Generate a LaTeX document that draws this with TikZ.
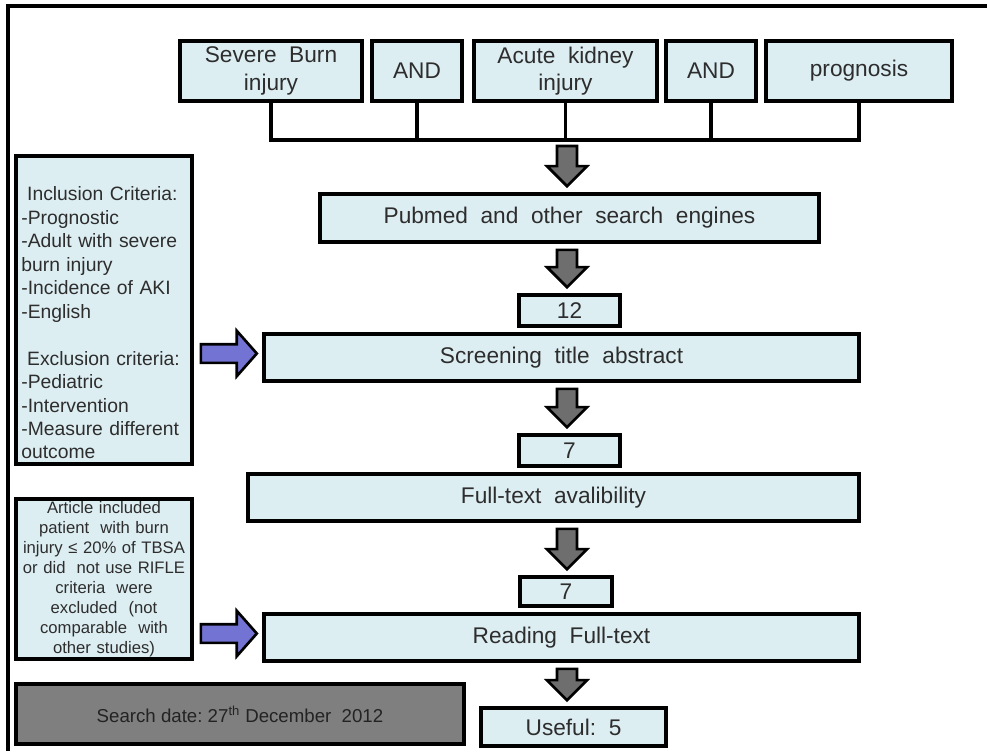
\documentclass[tikz,border=0pt]{standalone}
\usepackage{fontspec}
\setmainfont{Liberation Sans}
\usetikzlibrary{calc}
\definecolor{boxfill}{RGB}{221,238,243}
\definecolor{txt}{RGB}{45,45,45}
\definecolor{garrow}{RGB}{110,110,110}
\definecolor{barrow}{RGB}{115,115,212}
\definecolor{datefill}{RGB}{127,127,127}
\tikzset{
  box/.style={draw=black, line width=2.8pt, fill=boxfill, inner sep=0pt, text=txt,
    font=\fontsize{17}{20.5}\selectfont, anchor=center},
  spanbox/.style args={#1,#2,#3,#4}{at={({(#1+#3)/2},{(#2+#4)/2})},
    minimum width={(#3-#1-2)*0.75pt}, minimum height={(#4-#2-2)*0.75pt}},
  conn/.style={draw=black, line width=2.3pt},
  grayblk/.style={fill=garrow, draw=black, line width=2pt, line join=miter},
  blueblk/.style={fill=barrow, draw=black, line width=2pt, line join=miter},
}
% vertical gray block arrow from #1 (top anchor) to #2 (bottom anchor), on the x of (axis)
\newcommand\vblockarrow[2]{%
  \path[grayblk] let \p1=(#1), \p2=(#2), \p3=(axis) in
   (\x3-7.5pt,\y1-4.5pt) -- (\x3+7.5pt,\y1-4.5pt) -- (\x3+7.5pt,\y2+19.5pt)
   -- (\x3+15pt,\y2+19.5pt) -- (\x3,\y2+4.5pt) -- (\x3-15pt,\y2+19.5pt)
   -- (\x3-7.5pt,\y2+19.5pt) -- cycle;}
% horizontal blue block arrow from #1 (east anchor) to #2 (west anchor)
\newcommand\hblockarrow[2]{%
  \path[blueblk] let \p1=(#1), \p2=(#2) in
   (\x1+5.25pt,\y2+10pt) -- (\x2-19pt,\y2+10pt) -- (\x2-19pt,\y2+20pt)
   -- (\x2-4pt,\y2+3pt) -- (\x2-19pt,\y2-14pt) -- (\x2-19pt,\y2-4pt)
   -- (\x1+5.25pt,\y2-4pt) -- cycle;}
\begin{document}
\begin{tikzpicture}[x=0.75pt,y=-0.75pt]
\useasboundingbox (0,0) rectangle (987,751);
\fill[white] (0,0) rectangle (987,751);
\draw[line width=2.5pt] (8,751) -- (8,6) -- (987,6);

% search terms
\node[box, spanbox={179,40,363,102}, align=center] (b1) {Severe\ \ Burn\\injury};
\node[box, spanbox={371,40,463,102}] (b2) {AND};
\node[box, spanbox={473,40,658,102}, align=center] (b3) {Acute\ \ kidney\\injury};
\node[box, spanbox={665,40,757,102}] (b4) {AND};
\node[box, spanbox={765,40,953,102}] (b5) {prognosis};

\coordinate (bar) at (566,140);
\coordinate (axis) at (567,0);
\draw[conn] (b1.south) -- (b1.south |- bar) -- (b5.south |- bar) -- (b5.south);
\foreach \b in {b2,b3,b4} \draw[conn] (\b.south) -- (\b.south |- bar);

% main flow
\node[box, spanbox={319,193,820,243}] (pubmed) {Pubmed\ \ and\ \ other\ \ search\ \ engines};
\node[box, spanbox={518,294,621,327}] (n12) {12};
\node[box, spanbox={263,333,860,382}] (screen) {Screening\ \ title\ \ abstract};
\node[box, spanbox={518,434,621,467}] (n7a) {7};
\node[box, spanbox={247,473,860,522}] (avail) {Full-text\ \ avalibility};
\node[box, spanbox={519,576,613,607}] (n7b) {7};
\node[box, spanbox={263,613,860,662}] (read) {Reading\ \ Full-text};
\node[box, spanbox={480,707,667,747}] (useful) {Useful:\ \ 5};

\vblockarrow{bar}{pubmed.north}
\vblockarrow{pubmed.south}{n12.north}
\vblockarrow{screen.south}{n7a.north}
\vblockarrow{avail.south}{n7b.north}
\vblockarrow{read.south}{useful.north}

% side boxes
\node[box, spanbox={15,155,193,465}, align=left, text width=124pt,
      font=\fontsize{14.5}{17.6}\selectfont] (incl)
  {\rule{0pt}{30pt}\hspace*{0.3em}Inclusion Criteria:\\-Prognostic\\-Adult with severe\\burn injury\\
   -Incidence of AKI\\-English\\[17.6pt]
   \hspace*{0.3em}Exclusion criteria:\\-Pediatric\\-Intervention\\-Measure different\\outcome};
\node[box, spanbox={15,498,193,660}, align=center, text width=128pt,
      font=\fontsize{12.5}{15}\selectfont] (art)
  {Article included\\patient\ \ with burn\\injury ≤ 20\% of TBSA\\or did\ \ not use RIFLE\\
   criteria\ \ were\\excluded\ \ (not\\comparable\ \ with\\other studies)};
\node[box, fill=datefill, text={rgb,255:red,35;green,35;blue,35},
      font=\fontsize{14}{17}\selectfont, spanbox={15,683,465,745}] (search)
  {Search\ date:\ 27\textsuperscript{th}\ December\ \ 2012};

\hblockarrow{incl.east}{screen.west}
\hblockarrow{art.east}{read.west}
\end{tikzpicture}
\end{document}
